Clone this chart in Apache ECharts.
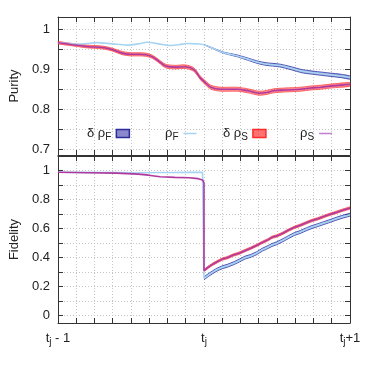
<!DOCTYPE html>
<html>
<head>
<meta charset="utf-8">
<script src="https://cdn.jsdelivr.net/npm/echarts@6/dist/echarts.min.js"></script>
<style>
  html, body { margin: 0; padding: 0; background: #fff; }
  #chart { width: 374px; height: 374px; }
</style>
</head>
<body>
<div id="chart"></div>
<script>
// purity, fast (F) and slow (S) estimates, with error bands
const purFX = [0, 0.07, 0.135, 0.2, 0.27, 0.37, 0.475, 0.55, 0.61, 0.69, 0.77, 0.83, 0.88, 0.95, 1.0, 1.06, 1.126, 1.18, 1.229, 1.3, 1.36, 1.42, 1.52, 1.6, 1.67, 1.75, 1.866, 1.94, 2.0]
const purF = [0.966, 0.964, 0.962, 0.964, 0.966, 0.963, 0.960, 0.963, 0.967, 0.963, 0.959, 0.961, 0.964, 0.963, 0.961, 0.952, 0.942, 0.937, 0.933, 0.925, 0.918, 0.913, 0.909, 0.902, 0.895, 0.891, 0.886, 0.883, 0.879]
const purFDelta = [0, 0, 0, 0, 0, 0, 0, 0, 0, 0, 0, 0, 0, 0, 0.0003, 0.0008, 0.0013, 0.0018, 0.0023, 0.0028, 0.003, 0.0033, 0.0035, 0.0038, 0.004, 0.004, 0.0042, 0.0042, 0.0042]

const purSX = [0, 0.1, 0.214, 0.305, 0.37, 0.441, 0.5, 0.555, 0.6, 0.646, 0.69, 0.737, 0.8, 0.874, 0.93, 0.978, 1.01, 1.047, 1.115, 1.229, 1.3, 1.377, 1.43, 1.479, 1.55, 1.66, 1.73, 1.8, 1.9, 2.0]
const purS = [0.966, 0.961, 0.956, 0.954, 0.949, 0.94, 0.937, 0.937, 0.936, 0.931, 0.92, 0.908, 0.905, 0.906, 0.899, 0.877, 0.866, 0.855, 0.85, 0.85, 0.846, 0.84, 0.842, 0.846, 0.848, 0.85, 0.853, 0.855, 0.859, 0.862]
const purSDelta = [0.003, 0.003, 0.0035, 0.0035, 0.0035, 0.004, 0.004, 0.004, 0.004, 0.004, 0.004, 0.0045, 0.0045, 0.0045, 0.0045, 0.0045, 0.005, 0.005, 0.005, 0.005, 0.005, 0.005, 0.005, 0.005, 0.005, 0.005, 0.005, 0.005, 0.005, 0.005]

// fidelity, before and after the jump at t_j
const fidPreX = [0, 0.2, 0.4, 0.55, 0.62, 0.7, 0.8, 0.9, 0.96, 0.99, 1.0]
const fidSPre = [0.988, 0.985, 0.982, 0.975, 0.968, 0.957, 0.953, 0.95, 0.944, 0.935, 0.915]
const fidFPre = [0.988, 0.987, 0.986, 0.985, 0.985, 0.986, 0.986, 0.987, 0.987, 0.987, 0.987]

const fidPostX = [1.0, 1.03, 1.06, 1.09, 1.125, 1.16, 1.2, 1.24, 1.28, 1.32, 1.36, 1.4, 1.44, 1.465, 1.5, 1.54, 1.58, 1.62, 1.66, 1.7, 1.74, 1.78, 1.82, 1.85, 1.9, 1.95, 2.0]
const fidSPost = [0.311, 0.335, 0.355, 0.372, 0.39, 0.4, 0.418, 0.43, 0.448, 0.465, 0.484, 0.505, 0.524, 0.54, 0.55, 0.568, 0.59, 0.609, 0.623, 0.64, 0.656, 0.668, 0.683, 0.694, 0.71, 0.727, 0.742]
const fidFPost = [0.258, 0.28, 0.3, 0.318, 0.334, 0.344, 0.36, 0.379, 0.40, 0.412, 0.43, 0.455, 0.474, 0.487, 0.5, 0.52, 0.542, 0.563, 0.577, 0.595, 0.611, 0.624, 0.638, 0.648, 0.666, 0.682, 0.696]
const fidSDelta = [0.008, 0.008, 0.008, 0.008, 0.008, 0.008, 0.008, 0.008, 0.008, 0.008, 0.008, 0.008, 0.008, 0.008, 0.008, 0.008, 0.008, 0.008, 0.008, 0.008, 0.008, 0.008, 0.008, 0.008, 0.008, 0.008, 0.008]
const fidFDelta = [0.01, 0.01, 0.01, 0.01, 0.01, 0.01, 0.01, 0.01, 0.01, 0.01, 0.01, 0.01, 0.01, 0.01, 0.01, 0.01, 0.01, 0.01, 0.01, 0.01, 0.01, 0.01, 0.01, 0.01, 0.01, 0.01, 0.01]

// axis ticks
const xTickValues = [0, 1, 2]
const xTickLabels = ['{t|t}{s|j}{t| - 1}', '{t|t}{s|j}', '{t|t}{s|j}{t|+1}']
const purTicks = [0.7, 0.75, 0.8, 0.85, 0.9, 0.95, 1.0]
const purLabels = [0.7, 0.8, 0.9, 1]
const fidTicks = [0, 0.1, 0.2, 0.3, 0.4, 0.5, 0.6, 0.7, 0.8, 0.9, 1.0]
const fidLabels = [0, 0.2, 0.4, 0.6, 0.8, 1]

const legendNames = ['δρF', 'ρF', 'δρS', 'ρS']
const legendText = {
  'δρF': '{g|δ ρ}{s|F}',
  'ρF': '{g|ρ}{s|F}',
  'δρS': '{g|δ ρ}{s|S}',
  'ρS': '{g|ρ}{s|S}'
}

const FONT = 'Liberation Sans, Arial, sans-serif'
const colF = '#a6d4f2'
const colS = '#b0389e'
const fillF = 'rgba(60, 80, 185, 0.55)'
const edgeF = 'rgba(45, 45, 160, 0.75)'
const fillS = 'rgba(255, 40, 40, 0.5)'
const edgeS = 'rgba(255, 60, 60, 0.7)'
const grid = { color: '#c4c4c4', width: 1, type: [1, 2] }
const frame = { show: true, onZero: false, lineStyle: { color: '#333', width: 1 } }
const subRich = {
  t: { fontSize: 13, fontFamily: FONT, color: '#222' },
  g: { fontSize: 13, fontFamily: FONT, color: '#222' },
  s: { fontSize: 10, fontFamily: FONT, color: '#222', padding: [8, 0, 0, 0] }
}

function xAxes(gridIndex, pos) {
  return {
    gridIndex: gridIndex,
    type: 'value',
    position: pos,
    min: 0,
    max: 2,
    interval: 0.125,
    axisLine: frame,
    axisTick: { inside: true, length: 5, lineStyle: { color: '#333' } },
    axisLabel: pos === 'bottom' && gridIndex === 1 ? {
      customValues: xTickValues,
      margin: 6,
      formatter: v => xTickLabels[xTickValues.indexOf(v)] || '',
      rich: subRich
    } : { show: false },
    splitLine: { show: pos === 'bottom', lineStyle: grid }
  }
}

function yAxes(gridIndex, pos, min, max, ticks, labels, name) {
  return {
    gridIndex: gridIndex,
    type: 'value',
    position: pos,
    min: min,
    max: max,
    name: pos === 'left' ? name : '',
    nameLocation: 'middle',
    nameGap: 33,
    nameTextStyle: { fontSize: 13, fontFamily: FONT, color: '#222' },
    axisLine: frame,
    axisTick: { inside: true, length: 5, customValues: ticks, lineStyle: { color: '#333' } },
    axisLabel: pos === 'left' ? {
      customValues: labels,
      fontSize: 13,
      fontFamily: FONT,
      color: '#222',
      margin: 8,
      formatter: v => String(Math.round(v * 10) / 10)
    } : { show: false },
    splitLine: { show: pos === 'left', lineStyle: grid }
  }
}

function lineSeries(name, xs, ys, xi, yi, color, smooth) {
  return {
    name: name,
    type: 'line',
    xAxisIndex: xi,
    yAxisIndex: yi,
    symbol: 'none',
    smooth: smooth,
    data: xs.map((x, i) => [x, ys[i]]),
    lineStyle: { color: color, width: 1.6 },
    itemStyle: { color: color }
  }
}

// error band drawn as one polygon through the axis scales
function bandSeries(name, xs, mid, delta, xi, yi, fill, edge, smooth) {
  const pts = xs.map((x, i) => [x, mid[i] - delta[i], mid[i] + delta[i], delta[i]]).filter(p => p[3] > 0)
  return {
    name: name,
    type: 'custom',
    xAxisIndex: xi,
    yAxisIndex: yi,
    clip: true,
    data: pts.map(p => [p[0], p[1], p[2]]),
    encode: { x: 0, y: [1, 2] },
    itemStyle: { color: fill },
    renderItem: (params, api) => {
      if (params.dataIndex !== 0) return
      const up = pts.map(p => api.coord([p[0], p[2]]))
      const lo = pts.map(p => api.coord([p[0], p[1]]))
      return {
        type: 'group',
        children: [
          { type: 'polygon', shape: { points: up.concat(lo.slice().reverse()), smooth: smooth }, style: { fill: fill } },
          { type: 'polyline', shape: { points: up, smooth: smooth }, style: { stroke: edge, lineWidth: 1, fill: null } },
          { type: 'polyline', shape: { points: lo, smooth: smooth }, style: { stroke: edge, lineWidth: 1, fill: null } }
        ]
      }
    }
  }
}

const lineIcon = 'path://M0,0 L26,0 L26,3 L0,3 Z'
const legendPos = [
  { left: 87, icon: 'rect' },
  { left: 165, icon: lineIcon },
  { left: 223, icon: 'rect' },
  { left: 300, icon: lineIcon }
]
const legendItemStyle = {
  'δρF': { color: 'rgba(40, 40, 160, 0.55)', borderColor: '#2c2c9c', borderWidth: 1.5 },
  'ρF': { color: colF },
  'δρS': { color: 'rgba(255, 40, 40, 0.65)', borderColor: '#ff2a2a', borderWidth: 1.5 },
  'ρS': { color: '#c27fd0' }
}

const chart = echarts.init(document.getElementById('chart'))
chart.setOption({
  animation: false,
  backgroundColor: '#fff',
  grid: [
    { left: 57, right: 24, top: 17, height: 138 },
    { left: 57, right: 24, top: 156, height: 167 }
  ],
  legend: legendNames.map((n, i) => ({
    left: legendPos[i].left,
    top: 127,
    padding: 0,
    align: 'right',
    selectedMode: false,
    itemWidth: 13,
    itemHeight: 8,
    itemGap: 0,
    data: [{ name: n, icon: legendPos[i].icon, itemStyle: legendItemStyle[n] }],
    formatter: name => legendText[name],
    textStyle: { rich: subRich }
  })),
  xAxis: [xAxes(0, 'bottom'), xAxes(0, 'top'), xAxes(1, 'bottom'), xAxes(1, 'top')],
  yAxis: [
    yAxes(0, 'left', 0.686, 1.03, purTicks, purLabels, 'Purity'),
    yAxes(0, 'right', 0.686, 1.03, purTicks, purLabels, ''),
    yAxes(1, 'left', -0.05, 1.1, fidTicks, fidLabels, 'Fidelity'),
    yAxes(1, 'right', -0.05, 1.1, fidTicks, fidLabels, '')
  ],
  series: [
    lineSeries('ρF', purFX, purF, 0, 0, colF, 0.3),
    lineSeries('ρS', purSX, purS, 0, 0, colS, 0.3),
    bandSeries('δρF', purFX, purF, purFDelta, 0, 0, fillF, edgeF, 0.3),
    bandSeries('δρS', purSX, purS, purSDelta, 0, 0, fillS, edgeS, 0.3),
    lineSeries('ρF', fidPreX.concat(fidPostX), fidFPre.concat(fidFPost), 2, 2, colF, false),
    lineSeries('ρS', fidPreX.concat(fidPostX), fidSPre.concat(fidSPost), 2, 2, colS, false),
    bandSeries('δρF', fidPostX, fidFPost, fidFDelta, 2, 2, fillF, edgeF, 0),
    bandSeries('δρS', fidPostX, fidSPost, fidSDelta, 2, 2, fillS, edgeS, 0)
  ]
})
</script>
</body>
</html>
